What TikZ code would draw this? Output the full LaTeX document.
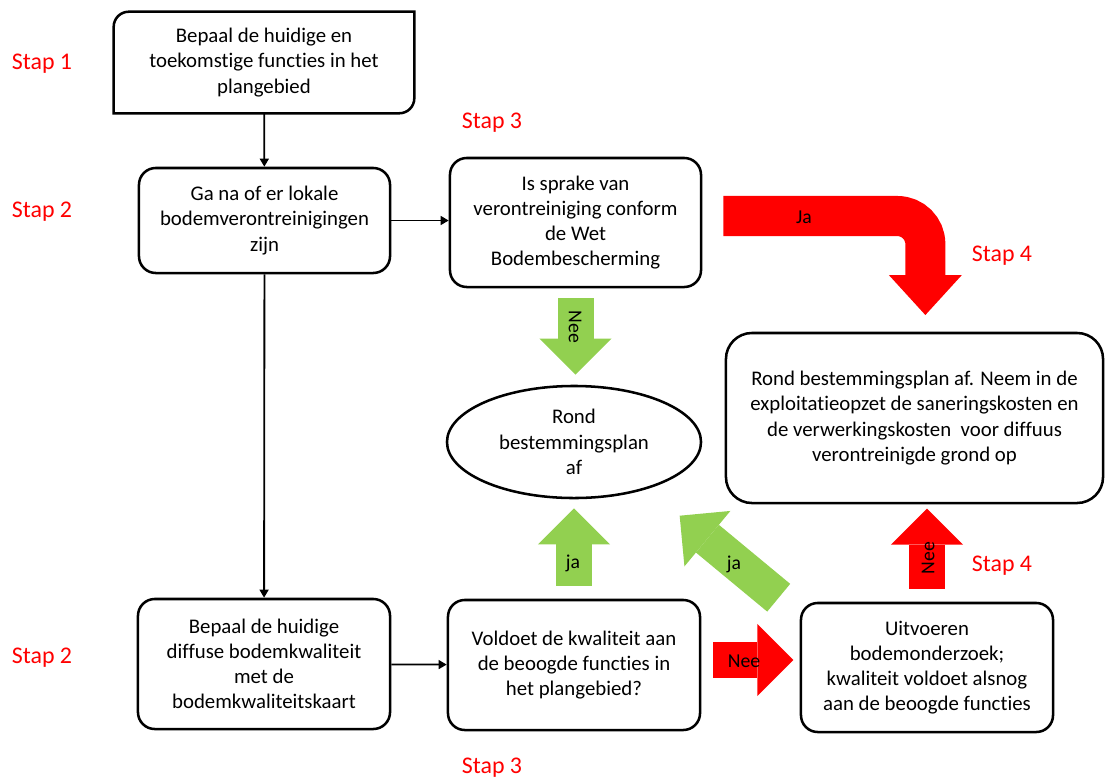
\documentclass[tikz,border=0pt]{standalone}
\usepackage{fontspec}
\setmainfont{Carlito}[Ligatures=NoCommon]
\usetikzlibrary{shapes.geometric, arrows, arrows.meta}

\definecolor{stapred}{RGB}{255,0,0}
\definecolor{groen}{RGB}{146,208,80}

\begin{document}
\begin{tikzpicture}[x=0.025cm, y=-0.025cm]

  \tikzstyle{process} = [rectangle, rounded corners=0.42cm, minimum width=6.3cm, minimum height=3.25cm, align=center, draw=black, line width=1.8pt, font=\fontsize{14.8}{17.9}\selectfont]
  \tikzstyle{einde} = [ellipse, minimum width=6.35cm, minimum height=2.8cm, inner sep=0pt, align=center, draw=black, line width=1.8pt, font=\fontsize{14.8}{17.9}\selectfont]
  \tikzstyle{stap} = [text=stapred, font=\fontsize{17}{20}\selectfont]
  \tikzstyle{pijltekst} = [text=black, font=\fontsize{14}{17}\selectfont]

  \tikzstyle{arrow} = [line width=1.3pt,->,>={Triangle[length=0.2cm, width=0.22cm]}]
  \tikzstyle{blokpijl} = [line width=0.9cm, -{Triangle[width=1.8cm, length=0.9cm, line width=0pt]}]

  \useasboundingbox (0,0) rectangle (1106,778);

  \node (functies) [process, draw=none, minimum width=7.45cm, minimum height=2.475cm] at (264,62.5) {Bepaal de huidige en\\toekomstige functies in het\\plangebied};
  \draw [line width=1.8pt] (functies.south west) -- ([shift={(0,15)}]functies.north west) .. controls ([shift={(0,6.7)}]functies.north west) and ([shift={(6.7,0)}]functies.north west) .. ([shift={(15,0)}]functies.north west) -- (functies.north east) -- ([shift={(0,-15)}]functies.south east) .. controls ([shift={(0,-6.7)}]functies.south east) and ([shift={(-6.7,0)}]functies.south east) .. ([shift={(-15,0)}]functies.south east) -- cycle;

  \node (lokaal) [process, minimum width=6.275cm, minimum height=2.625cm] at (264.5,220.5) {Ga na of er lokale\\bodemverontreinigingen\\zijn};
  \node (wet) [process, minimum width=6.275cm, minimum height=3.225cm] at (575.5,222.5) {Is sprake van\\verontreiniging conform\\de Wet\\Bodembescherming};
  \node (rond) [einde] at (574,442) {Rond\\bestemmingsplan\\af};
  \node (afronden) [process, rounded corners=0.65cm, minimum width=9.425cm, minimum height=4.25cm] at (914.5,418) {Rond bestemmingsplan af. Neem in de\\exploitatieopzet de saneringskosten en\\de verwerkingskosten\ \ voor diffuus\\verontreinigde grond op};
  \node (diffuus) [process] at (264,664) {Bepaal de huidige\\diffuse bodemkwaliteit\\met de\\bodemkwaliteitskaart};
  \node (voldoet) [process] at (574,665) {Voldoet de kwaliteit aan\\de beoogde functies in\\het plangebied?};
  \node (onderzoek) [process, minimum height=3.225cm] at (927,667.5) {Uitvoeren\\bodemonderzoek;\\kwaliteit voldoet alsnog\\aan de beoogde functies};

  \draw [arrow] (functies) -- (lokaal);
  \draw [arrow] (lokaal) -- (diffuus);
  \draw [arrow] (lokaal.east) -- (lokaal.east -| wet.west);
  \draw [arrow] (diffuus) -- (voldoet);

  \draw [blokpijl, groen, shorten <=0.25cm, shorten >=0.25cm] (wet.south) -- (wet.south |- rond.north);
  \draw [blokpijl, groen, shorten <=0.325cm, shorten >=0.225cm] (voldoet.north) -- (voldoet.north |- rond.south);
  \draw [blokpijl, groen] ([shift={(-0.525cm,0.1cm)}]onderzoek.north west) -- ++(-2.475cm,2.05cm);
  \draw [blokpijl, stapred] ([shift={(0.3cm,0.125cm)}]voldoet.east) -- ++(2cm,0);
  \draw [blokpijl, stapred] ([shift={(0,0.325cm)}]onderzoek.north) -- ++(0,2cm);
  \draw [blokpijl, stapred, line width=1cm, rounded corners=0.7cm, -{Triangle[width=1.825cm, length=1cm, line width=0pt]}] ([shift={(0.525cm,0.1625cm)}]wet.east) -- ++(5.05cm,0) -- ++(0,-2.475cm);

  \node (jaRood) [pijltekst] at (804,217) {Ja};
  \node (neeGroen) [pijltekst, rotate=-90] at (575,327) {Nee};
  \node (jaGroen) [pijltekst] at (573,563) {ja};
  \node (jaSchuin) [pijltekst] at (734,564) {ja};
  \node (neeRechts) [pijltekst] at (744,661) {Nee};
  \node (neeOmhoog) [pijltekst, rotate=90] at (928,558) {Nee};

  \node (stap1) [stap] at (42,64) {Stap 1};
  \node (stap2a) [stap] at (42,212) {Stap 2};
  \node (stap2b) [stap] at (42,658) {Stap 2};
  \node (stap3a) [stap] at (492,123) {Stap 3};
  \node (stap3b) [stap] at (492,768) {Stap 3};
  \node (stap4a) [stap] at (1002,256) {Stap 4};
  \node (stap4b) [stap] at (1002,566) {Stap 4};

\end{tikzpicture}
\end{document}
